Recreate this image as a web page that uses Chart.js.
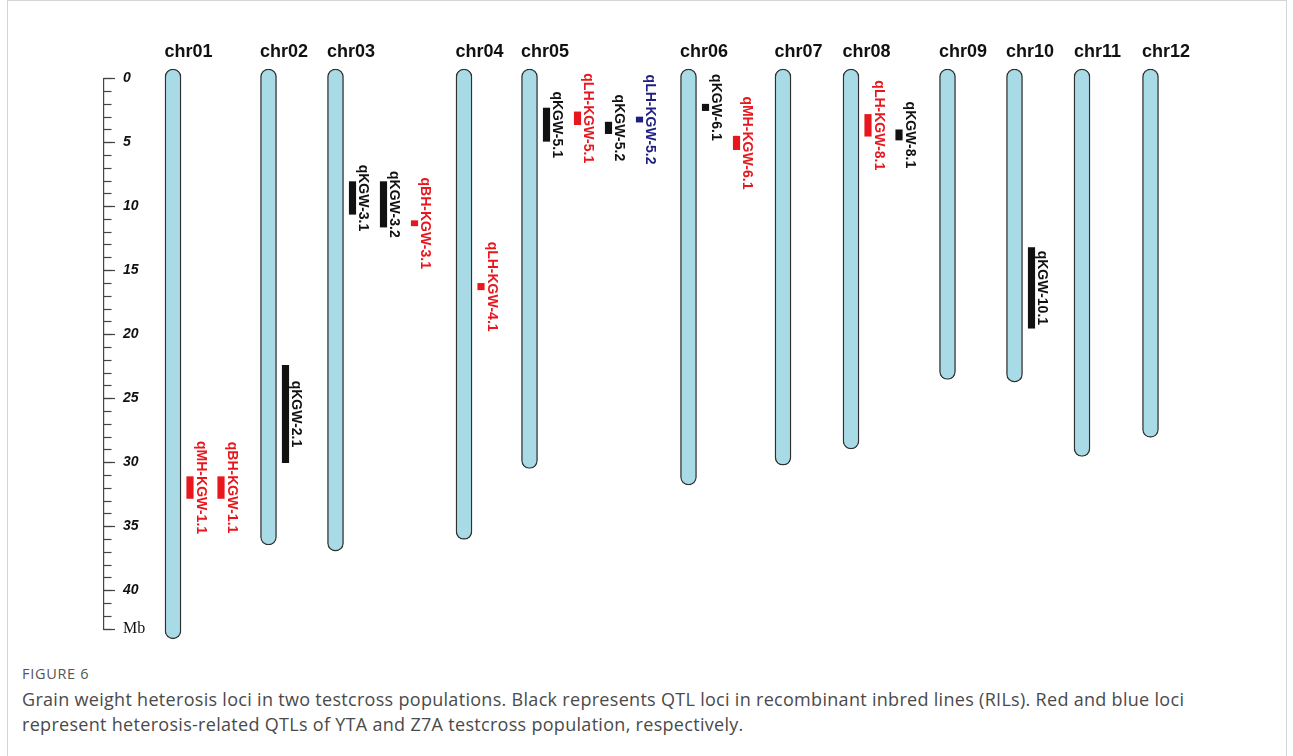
<!DOCTYPE html>
<html>
<head>
<meta charset="utf-8">
<script src="https://cdn.jsdelivr.net/npm/chart.js@4.4.1/dist/chart.umd.min.js"></script>
<style>
  html, body { margin: 0; padding: 0; background: #fff; }
  body { width: 1293px; height: 756px; position: relative; overflow: hidden; }
  #frame { position: absolute; left: 7px; top: 0; width: 1280px; height: 800px; border: 1px solid #d4d4d4; box-sizing: border-box; }
  #wrap { position: absolute; left: 0; top: 0; width: 1293px; height: 660px; }
  .fig-label { position: absolute; left: 22px; top: 665px; font: 14.5px/18px "Open Sans", sans-serif; color: #555; letter-spacing: 0.7px; }
  .fig-caption { position: absolute; left: 22px; top: 687px; width: 1260px; font: 18px/25px "Open Sans", sans-serif; color: #4a4a4a; letter-spacing: 0.3px; white-space: nowrap; }
</style>
</head>
<body>
<div id="frame"></div>
<div id="wrap"><canvas id="chromChart" width="1293" height="660"></canvas></div>
<div class="fig-label">FIGURE 6</div>
<div class="fig-caption">Grain weight heterosis loci in two testcross populations. Black represents QTL loci in recombinant inbred lines (RILs). Red and blue loci<br>represent heterosis-related QTLs of YTA and Z7A testcross population, respectively.</div>
<script>
// Chromosomes and their lengths (Mb)
const chromNames = ["chr01", "chr02", "chr03", "chr04", "chr05", "chr06",
                    "chr07", "chr08", "chr09", "chr10", "chr11", "chr12"];
const chromLengths = [43.27, 35.94, 36.41, 35.5, 29.96, 31.25, 29.7, 28.44, 23.01, 23.21, 29.02, 27.53];

// QTL loci: name, chromosome, interval (Mb) and population
const qtlNames = ["qMH-KGW-1.1", "qBH-KGW-1.1", "qKGW-2.1", "qKGW-3.1", "qKGW-3.2", "qBH-KGW-3.1",
                  "qLH-KGW-4.1", "qKGW-5.1", "qLH-KGW-5.1", "qKGW-5.2", "qLH-KGW-5.2", "qKGW-6.1",
                  "qMH-KGW-6.1", "qLH-KGW-8.1", "qKGW-8.1", "qKGW-10.1"];
const qtlChrom = [1, 1, 2, 3, 3, 3, 4, 5, 5, 5, 5, 6, 6, 8, 8, 10];
const qtlStart = [31.1, 31.1, 22.4, 8.05, 8.05, 11.1, 16.0, 2.3, 2.6, 3.4, 3.0, 2.0, 4.5, 2.8, 4.0, 13.2];
const qtlEnd = [32.8, 32.8, 30.0, 10.6, 11.6, 11.5, 16.5, 4.9, 3.6, 4.3, 3.4, 2.5, 5.55, 4.5, 4.8, 19.5];
const qtlPop = ["YTA", "YTA", "RIL", "RIL", "RIL", "YTA", "YTA", "RIL", "YTA", "RIL", "Z7A", "RIL",
                "YTA", "YTA", "RIL", "RIL"];

// ruler ticks
const tickValues = [0, 5, 10, 15, 20, 25, 30, 35, 40, 43];
const tickLabels = ["0", "5", "10", "15", "20", "25", "30", "35", "40", "Mb"];

// layout (x in layout units from the ruler)
const chromSlot = [69, 164.5, 231.5, 360, 425.5, 584.5, 679, 747, 843.5, 910.5, 978, 1046.5];
const xMax = 1189;
const colStart = 17, colStep = 31, labelGap = 10.5;
const popColor = { RIL: "#111111", YTA: "#e8161d", Z7A: "#1d1d82" };

// column of each QTL next to its chromosome
const seen = {};
const qtlColumn = qtlChrom.map(c => { seen[c] = (seen[c] || 0) + 1; return seen[c] - 1; });

const qtlLabels = {
  id: "qtlLabels",
  afterDatasetsDraw(chart) {
    const ctx = chart.ctx;
    const meta = chart.getDatasetMeta(1);
    ctx.save();
    ctx.font = 'bold 14px "Liberation Sans", Arial, sans-serif';
    ctx.textAlign = "center";
    ctx.textBaseline = "middle";
    meta.data.forEach((bar, i) => {
      const p = bar.getProps(["x", "y", "base"], true);
      ctx.save();
      ctx.translate(p.x + labelGap, (p.y + p.base) / 2);
      ctx.rotate(Math.PI / 2);
      ctx.fillStyle = popColor[qtlPop[i]];
      ctx.fillText(qtlNames[i], 0, 0);
      ctx.restore();
    });
    ctx.restore();
  }
};

const ctx = document.getElementById("chromChart").getContext("2d");
const chart = new Chart(ctx, {
  type: "bar",
  data: {
    datasets: [
      {
        label: "Chromosomes",
        data: chromNames.map((n, i) => ({ x: chromSlot[i], y: [-0.75, chromLengths[i] + 0.5] })),
        backgroundColor: "#a9dbe6",
        borderColor: "#303030",
        borderWidth: 1.4,
        borderRadius: 8,
        borderSkipped: false,
        barThickness: 16,
        grouped: false,
        clip: false
      },
      {
        label: "QTL",
        data: qtlNames.map((n, i) => ({
          x: chromSlot[qtlChrom[i] - 1] + colStart + colStep * qtlColumn[i],
          y: [qtlStart[i], qtlEnd[i]]
        })),
        backgroundColor: c => popColor[qtlPop[c.dataIndex]],
        borderWidth: 0,
        borderSkipped: false,
        barThickness: 6.5,
        grouped: false,
        clip: false
      }
    ]
  },
  options: {
    responsive: false,
    animation: false,
    layout: { padding: { top: 25, bottom: 31, left: 0, right: 0 } },
    plugins: { legend: { display: false }, tooltip: { enabled: false } },
    scales: {
      x: {
        type: "linear",
        position: "top",
        min: 0,
        max: xMax,
        offset: false,
        grid: { display: false, drawTicks: false },
        border: { display: false },
        afterBuildTicks: s => { s.ticks = chromSlot.map(v => ({ value: v })); },
        ticks: {
          autoSkip: false,
          maxRotation: 0,
          minRotation: 0,
          padding: 16,
          labelOffset: 15.5,
          color: "#111",
          font: { family: '"Liberation Sans", Arial, sans-serif', size: 18, weight: "bold" },
          callback: (v, i) => chromNames[i]
        }
      },
      y: {
        type: "linear",
        position: "left",
        reverse: true,
        min: 0,
        max: 43,
        weight: 0,
        afterFit: s => { s.width = 0; },
        afterBuildTicks: s => { s.ticks = tickValues.map(v => ({ value: v })); },
        grid: { drawOnChartArea: false, drawTicks: true, tickLength: -11, tickColor: "#444", tickWidth: 1.2 },
        border: { display: true, color: "#444", width: 1.2 },
        ticks: {
          mirror: true,
          padding: 19,
          color: "#111",
          callback: (v, i) => tickLabels[i],
          font: c => (c.tick && c.tick.value === 43)
            ? { family: '"Liberation Serif", "Times New Roman", serif', size: 16, weight: "normal", style: "normal" }
            : { family: '"Liberation Sans", Arial, sans-serif', size: 14, weight: "bold", style: "italic" }
        }
      },
      yMinor: {
        type: "linear",
        position: "left",
        reverse: true,
        min: 0,
        max: 43,
        weight: 1,
        afterFit: s => { s.width = 104; },
        grid: { drawOnChartArea: false, drawTicks: true, tickLength: -7.5, tickColor: "#444", tickWidth: 1.2 },
        border: { display: false },
        ticks: { stepSize: 1, display: false }
      }
    }
  },
  plugins: [qtlLabels]
});
</script>
</body>
</html>
